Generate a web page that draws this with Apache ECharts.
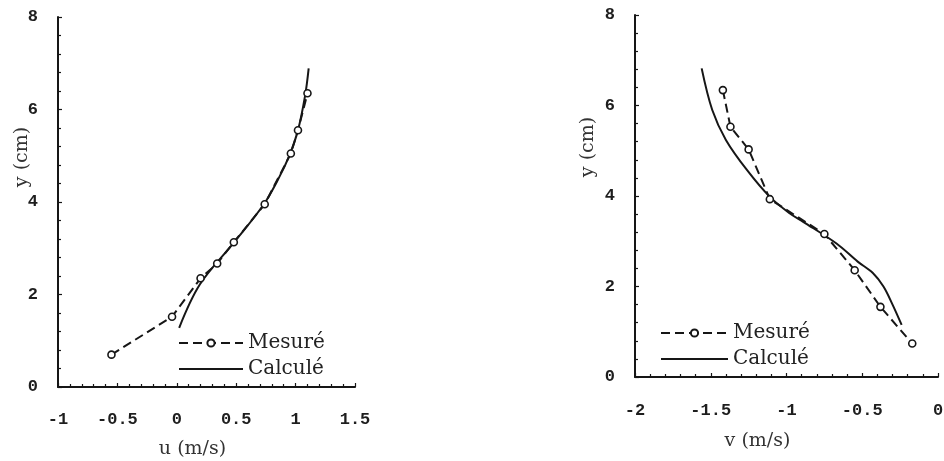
<!DOCTYPE html>
<html>
<head>
<meta charset="utf-8">
<script src="https://cdn.jsdelivr.net/npm/echarts@6/dist/echarts.min.js"></script>
<style>
html,body{margin:0;padding:0;background:#fff;}
#c{width:944px;height:461px;}
</style>
</head>
<body>
<div id="c"></div>
<script>
// Left panel: u velocity profile
var uMesX = [-0.55, -0.04, 0.20, 0.34, 0.48, 0.74, 0.96, 1.02, 1.10];
var uMesY = [0.70, 1.52, 2.35, 2.67, 3.13, 3.95, 5.05, 5.55, 6.35];
var uCalX = [0.02, 0.195, 0.48, 0.73, 0.855, 0.95, 1.02, 1.08, 1.11];
var uCalY = [1.28, 2.22, 3.12, 3.94, 4.50, 5.02, 5.55, 6.30, 6.89];
// Right panel: v velocity profile
var vMesX = [-1.42, -1.37, -1.25, -1.11, -0.75, -0.55, -0.38, -0.17];
var vMesY = [6.34, 5.53, 5.03, 3.93, 3.16, 2.36, 1.55, 0.74];
var vCalX = [-1.56, -1.49, -1.40, -1.26, -1.11, -0.98, -0.89, -0.67, -0.53, -0.43, -0.36, -0.30, -0.24];
var vCalY = [6.82, 5.90, 5.24, 4.57, 3.98, 3.62, 3.43, 2.95, 2.55, 2.30, 2.00, 1.60, 1.15];
// Axis ranges / ticks
var uRange = [-1, 1.5];
var vRange = [-2, 0];
var yRange = [0, 8];
var names = {mes: 'Mesuré', cal: 'Calculé', u: 'u (m/s)', v: 'v (m/s)', y: 'y (cm)'};

function pairs(xs, ys) { return xs.map(function (x, i) { return [x, ys[i]]; }); }

var ink = '#161616';
var tickFont = {color: '#1e1e1e', fontFamily: 'Liberation Mono', fontWeight: 'bold', fontSize: 17};
var nameFont = {color: '#333', fontFamily: 'DejaVu Serif', fontSize: 19};

function xAx(idx, r, gap, pad, margin) {
  return {
    type: 'value', gridIndex: idx, min: r[0], max: r[1], interval: 0.5,
    name: idx === 0 ? names.u : names.v, nameLocation: 'middle', nameGap: gap,
    nameMoveOverlap: false,
    nameTextStyle: Object.assign({padding: pad}, nameFont),
    axisLine: {show: true, onZero: false, lineStyle: {color: ink, width: 2}},
    axisTick: {show: true, inside: true, length: 4, lineStyle: {color: ink, width: 1.2}},
    minorTick: {show: true, splitNumber: 5, length: 3, lineStyle: {color: ink, width: 1.2}},
    splitLine: {show: false},
    axisLabel: Object.assign({margin: margin}, tickFont)
  };
}
function yAx(idx, gap, pad) {
  return {
    type: 'value', gridIndex: idx, min: yRange[0], max: yRange[1], interval: 2,
    name: names.y, nameLocation: 'middle', nameGap: gap,
    nameMoveOverlap: false,
    nameTextStyle: Object.assign({padding: pad}, nameFont),
    axisLine: {show: true, onZero: false, lineStyle: {color: ink, width: 2}},
    axisTick: {show: true, inside: true, length: 4, lineStyle: {color: ink, width: 1.2}},
    minorTick: {show: true, splitNumber: 5, length: 3, lineStyle: {color: ink, width: 1.2}},
    splitLine: {show: false},
    axisLabel: Object.assign({margin: 20}, tickFont)
  };
}

var mesStyle = {
  type: 'line', symbol: 'circle', symbolSize: 7, showSymbol: true,
  lineStyle: {color: ink, width: 2, type: [9, 5]},
  itemStyle: {color: '#fff', borderColor: ink, borderWidth: 1.6},
  z: 3, animation: false
};
var calStyle = {
  type: 'line', symbol: 'none', smooth: 0.35,
  lineStyle: {color: ink, width: 2},
  itemStyle: {color: ink},
  z: 2, animation: false
};

var legendText = {color: '#222', fontFamily: 'DejaVu Serif', fontSize: 20, padding: [0, 0, 10, 0]};
var legendData = [{name: names.mes}, {name: names.cal, itemStyle: {opacity: 0}}];

var option = {
  backgroundColor: '#fff',
  animation: false,
  grid: [
    {left: 58, top: 17, width: 297, height: 370, containLabel: false, outerBoundsMode: 'none'},
    {left: 635, top: 15, width: 303, height: 362, containLabel: false, outerBoundsMode: 'none'}
  ],
  xAxis: [xAx(0, uRange, 53, [0, 28, 0, 0], 24), xAx(1, vRange, 55, [0, 58, 0, 0], 25)],
  yAxis: [yAx(0, 26, [0, 0, 0, 90]), yAx(1, 37, [0, 0, 0, 98])],
  legend: [
    {data: legendData, orient: 'vertical', left: 178, top: 333, padding: 0,
     itemWidth: 64, itemHeight: 9, itemGap: 6, textStyle: legendText, selectedMode: false},
    {data: legendData, orient: 'vertical', left: 660, top: 323, padding: 0,
     itemWidth: 67, itemHeight: 9, itemGap: 6, textStyle: legendText, selectedMode: false}
  ],
  series: [
    Object.assign({name: names.mes, xAxisIndex: 0, yAxisIndex: 0, data: pairs(uMesX, uMesY)}, mesStyle),
    Object.assign({name: names.cal, xAxisIndex: 0, yAxisIndex: 0, data: pairs(uCalX, uCalY)}, calStyle),
    Object.assign({name: names.mes, xAxisIndex: 1, yAxisIndex: 1, data: pairs(vMesX, vMesY)}, mesStyle),
    Object.assign({name: names.cal, xAxisIndex: 1, yAxisIndex: 1, data: pairs(vCalX, vCalY)}, calStyle)
  ]
};

var chart = echarts.init(document.getElementById('c'), null, {renderer: 'canvas'});
chart.setOption(option);
</script>
</body>
</html>
